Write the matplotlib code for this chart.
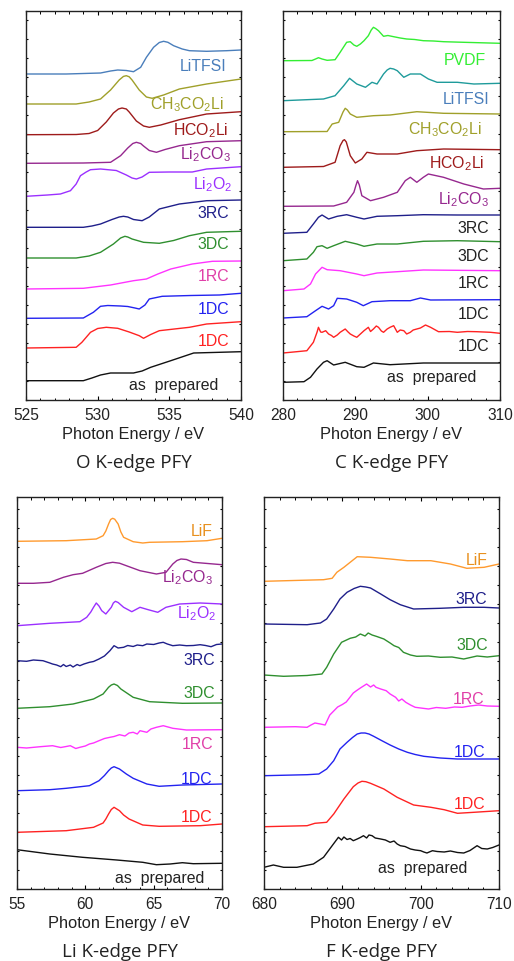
import matplotlib
matplotlib.use("Agg")
import matplotlib.pyplot as plt
from matplotlib.ticker import MultipleLocator

plt.rcParams['font.family'] = ['Liberation Sans', 'DejaVu Sans']
plt.rcParams['mathtext.fontset'] = 'custom'
plt.rcParams['mathtext.rm'] = 'Liberation Sans'
plt.rcParams['mathtext.it'] = 'Liberation Sans:italic'
plt.rcParams['mathtext.default'] = 'regular'

# ---- O K-edge (energy eV, stacked intensity a.u.) ----
o_litfsi_e = [525, 527.8, 530.2, 530.9, 531.4, 532.0, 532.5, 533.0, 533.4, 533.9, 534.3, 534.6, 534.9, 535.3, 535.9, 536.4, 537.6, 539.0, 540]
o_litfsi_i = [326, 326, 327, 329, 330, 329.5, 328.3, 332.7, 342.7, 352.7, 357.5, 358.7, 357.7, 354.3, 351, 349.3, 348.7, 349.3, 350]
o_ch3_e = [525, 528.5, 529.4, 530.2, 530.9, 531.5, 531.8, 532.0, 532.2, 532.4, 532.9, 533.4, 533.8, 534.6, 535.7, 537.6, 540]
o_ch3_i = [296, 296, 298, 301, 310, 320, 323.6, 324.3, 323.2, 320, 310, 303, 301.7, 305, 311, 316, 321]
o_hco_e = [525, 528.5, 529.4, 530.0, 530.6, 531.1, 531.45, 531.7, 532.0, 532.2, 532.7, 533.2, 533.6, 534.4, 535.7, 537.6, 540]
o_hco_i = [265.3, 265.5, 266.5, 269.5, 278, 287, 291, 292, 291, 288, 279, 274, 272.7, 275, 280.3, 286, 288.3]
o_li2co3_e = [525, 529, 530.9, 531.6, 532.1, 532.45, 532.7, 533.0, 533.2, 533.6, 534.1, 534.7, 535.7, 537.6, 540]
o_li2co3_i = [236.7, 237, 237.7, 244.3, 252, 256.5, 257.7, 256.5, 254, 249.5, 247.7, 250.5, 254.3, 258.3, 259.3]
o_li2o2_e = [525, 526.5, 527.4, 528.1, 528.5, 528.8, 529.2, 529.5, 530.2, 531.3, 532.0, 532.4, 532.7, 533.1, 533.6, 535.0, 536.6, 537.6, 540]
o_li2o2_i = [203.7, 205, 206, 209.3, 216, 224.3, 228, 230.3, 231, 229.5, 225, 222, 221, 223, 227.7, 228, 228, 231, 233.3]
o_3rc_e = [525, 529, 529.6, 530.2, 531.0, 531.5, 531.8, 532.1, 532.5, 533.1, 533.6, 534.3, 535.7, 537.6, 540]
o_3rc_i = [172.7, 172.7, 174, 176, 180.5, 183, 183.7, 183, 180.5, 179.3, 183, 191, 196, 199.3, 200]
o_3dc_e = [525, 528.5, 529.4, 530.2, 531.1, 531.6, 531.9, 532.1, 532.4, 533.2, 534.3, 535.3, 536.4, 537.6, 540]
o_3dc_i = [142, 142, 144, 147.7, 156, 162, 163.7, 163, 161, 157.7, 156.7, 159.5, 164.3, 167.7, 168.7]
o_1rc_e = [525, 529, 530.9, 532.5, 533.4, 534.2, 535.1, 536.6, 538.0, 540]
o_1rc_i = [111, 111.7, 115, 119.3, 121, 126, 131, 136, 138.7, 139]
o_1dcb_e = [525, 529.0, 529.7, 530.2, 530.7, 531.6, 532.1, 532.6, 532.9, 533.3, 533.6, 534.5, 536.5, 538.5, 540]
o_1dcb_i = [81.7, 82, 87.7, 93.7, 94.5, 94, 93.5, 92, 91, 95, 101, 103.7, 104.5, 105, 106.7]
o_1dcr_e = [525, 528.5, 528.9, 529.5, 530.0, 530.6, 531.4, 532.2, 532.9, 533.2, 533.7, 534.3, 536.4, 537.6, 540]
o_1dcr_i = [52, 52.7, 57.7, 67.7, 71.5, 72.7, 71.7, 68, 64.3, 61.7, 65.5, 69.3, 72.7, 76, 78.3]
o_ap_e = [525, 529, 529.6, 530.2, 530.9, 532.5, 533.1, 533.7, 535.1, 536.7, 538.5, 540]
o_ap_i = [19.3, 19.3, 22, 25, 27, 27, 29, 32.7, 39.3, 47, 47.7, 48.3]

# ---- C K-edge ----
c_pvdf_e = [280, 284.0, 284.5, 284.9, 285.4, 286.1, 287.2, 287.9, 288.8, 289.3, 289.8, 290.2, 290.7, 291.2, 291.8, 292.2, 292.5, 292.8, 293.2, 293.9, 294.5, 295.3, 296.2, 297.1, 298.2, 299.4, 300.8, 302.2, 305.0, 310]
c_pvdf_i = [339.3, 339.5, 341, 342.3, 341, 339.7, 340.3, 347.7, 357.7, 358.3, 355, 353.7, 356, 359.3, 364.3, 370, 372.7, 371.5, 369.3, 363.7, 364.5, 363.3, 362, 361, 360.5, 359.3, 359, 358.3, 357.7, 356.7]
c_litfsi_e = [280, 285.6, 287.2, 288.4, 289.2, 290.2, 291.4, 292.3, 293.0, 293.9, 294.4, 294.8, 295.3, 295.8, 296.7, 297.6, 299.0, 300.1, 301.3, 304.1, 306.4, 310]
c_litfsi_i = [299.3, 301, 304.3, 314.3, 321.7, 316, 312.7, 317.7, 316, 326, 330, 331.7, 331, 329.3, 322.7, 326, 326, 321, 317.7, 317.7, 316, 316.7]
c_ch3_e = [280, 286.1, 286.8, 287.7, 288.3, 288.6, 288.9, 289.3, 290.2, 292.5, 294.8, 298.5, 302.2, 310]
c_ch3_i = [268.3, 268.5, 276, 277.7, 288, 291.7, 290, 286, 282.7, 284.3, 285, 288.3, 286.7, 286]
c_hco_e = [280, 285.6, 287.2, 287.9, 288.3, 288.5, 288.75, 289.3, 290.0, 290.9, 291.6, 293.0, 295.8, 298.5, 302.2, 310]
c_hco_i = [232.7, 233.5, 237.7, 254.3, 259.5, 260.3, 258, 244.3, 237, 241, 247.7, 246, 246, 249.3, 251, 250.3]
c_li2co3_e = [280, 287.0, 288.8, 289.8, 290.1, 290.3, 290.55, 290.9, 292.1, 293.9, 295.8, 296.9, 297.6, 298.5, 299.4, 300.1, 302.2, 305.0, 307.7, 310]
c_li2co3_i = [193.7, 194, 197.7, 207.7, 215, 219.3, 215, 204.3, 199.3, 202.7, 207.7, 219.3, 222.7, 217.7, 222.7, 226, 222.7, 216, 211, 211.7]
c_3rc_e = [280, 283.3, 284.2, 284.9, 285.4, 286.3, 287.5, 288.8, 290.2, 291.2, 293.0, 295.8, 299.4, 304.1, 310]
c_3rc_i = [166.7, 167.7, 176, 182.7, 185, 181, 183.7, 185.3, 182.7, 181, 183.7, 184.3, 185.3, 185, 185]
c_3dc_e = [280, 283.3, 284.2, 284.7, 285.4, 286.1, 287.0, 288.6, 290.2, 291.2, 293.0, 295.8, 299.4, 304.1, 310]
c_3dc_i = [139.3, 141, 147.7, 153.3, 154.3, 151.7, 154.3, 158.7, 156, 153.7, 156, 156, 158.7, 159.3, 158.3]
c_1rc_e = [280, 282.9, 283.8, 284.5, 285.4, 286.1, 287.9, 290.2, 291.2, 293.0, 295.8, 299.4, 310]
c_1rc_i = [109.3, 111, 116, 126, 132.7, 130.3, 129.3, 126, 124.3, 127, 128.3, 130, 129.3]
c_1dcb_e = [280, 283.3, 284.5, 285.4, 286.3, 287.0, 287.5, 288.8, 290.2, 291.1, 292.3, 294.8, 297.6, 299.0, 300.4, 310]
c_1dcb_i = [82, 83.3, 89.3, 93.7, 91, 94.3, 101.7, 101, 97.7, 94.3, 98.3, 99.3, 99.3, 102, 100, 100.3]
c_1dcr_e = [280, 281.9, 283.3, 284.2, 284.7, 284.9, 285.2, 285.4, 285.9, 286.3, 286.7, 287.0, 287.5, 287.9, 288.6, 289.0,
            289.3, 289.8, 290.2, 290.7, 291.2, 291.8, 292.1, 292.5, 292.9, 293.2, 293.6, 293.9, 294.4, 294.8, 295.3, 295.8,
            296.2, 296.7, 297.1, 297.6, 298.0, 298.5, 299.0, 299.7, 300.4, 301.5, 303.0, 304.1, 305.5, 306.8, 308.7, 310]
c_1dcr_i = [47, 48.3, 49.3, 57.7, 67.7, 72.7, 68, 67.7, 69.3, 66, 64.5, 62.7, 65, 67.7, 71, 68,
            66, 64, 62.7, 66, 69.3, 72.7, 68.5, 71, 74, 72.7, 69, 67.7, 71, 72.7, 74.3, 67.7,
            70, 69.3, 66, 67.7, 70, 71, 72, 75, 72.7, 68.3, 68.5, 67.7, 68.5, 68.3, 67.7, 66.7]
c_ap_e = [280, 282.9, 283.8, 284.7, 285.6, 286.1, 287.0, 288.6, 290.2, 291.2, 292.5, 294.8, 299.4, 310]
c_ap_i = [17.7, 18.3, 22.7, 31, 37.7, 39.3, 35, 37.7, 33.3, 32.7, 37, 35.3, 37, 37]

# ---- Li K-edge ----
li_lif_e = [55, 58.6, 60.8, 61.3, 61.5, 61.7, 61.85, 62.0, 62.15, 62.4, 62.6, 62.8, 63.5, 64.2, 64.7, 67.1, 68.9, 70]
li_lif_i = [347.7, 348.3, 350, 353.3, 358, 365, 369.5, 370.7, 369.8, 365, 357, 351.7, 347.3, 346, 346.7, 347.3, 348.3, 350.7]
li_li2co3_e = [55, 56.2, 57.4, 58.4, 59.1, 59.8, 60.8, 61.5, 62.0, 62.5, 63.0, 64.0, 65.2, 65.9, 66.4, 66.7, 67.0, 67.4, 67.9, 70]
li_li2co3_i = [305.7, 305.7, 306.7, 311.7, 314.3, 315.7, 321.7, 325.5, 326.7, 325.8, 323.3, 318.3, 315, 316.7, 325, 328.5, 330, 329.5, 326.7, 324.3]
li_li2o2_e = [55, 57.4, 59.6, 60.1, 60.4, 60.6, 60.8, 61.0, 61.2, 61.5, 61.9, 62.05, 62.2, 62.4, 62.8, 63.4, 64.0, 64.6, 65.3, 65.9, 66.9, 68.4, 70]
li_li2o2_i = [263.3, 265.7, 267.3, 271.7, 277, 281.7, 286, 283, 278.3, 275, 281.7, 286, 287.7, 286.5, 281.7, 277.3, 281.7, 279.3, 276.7, 281.7, 285, 286, 285]
li_3rc_e = [55, 55.7, 56.2, 56.9, 57.4, 57.6, 57.9, 58.2, 58.4, 58.6, 58.9, 59.1, 59.4, 59.6, 59.9, 60.3, 60.6, 61.0, 61.4, 61.8,
            62.1, 62.4, 62.8, 63.1, 63.5, 63.8, 64.2, 64.5, 65.0, 65.4, 65.7, 66.0, 66.4, 66.9, 67.4, 67.9, 68.4, 68.8, 69.2, 69.6, 70]
li_3rc_i = [228.3, 227.7, 229, 228.3, 226, 225, 224, 222.3, 224.5, 222.5, 224, 222, 224.5, 223.3, 225, 226.7, 227.5, 230, 233, 238.3,
            243.3, 241, 241.7, 243.5, 242.5, 244, 243.3, 245, 244.5, 246, 246.7, 245, 243.3, 244, 243.3, 243.5, 244.3, 243.5, 242.3, 244.5, 245]
li_3dc_e = [55, 57.4, 59.1, 60.6, 61.3, 61.7, 61.9, 62.1, 62.35, 62.6, 63.5, 64.7, 67.1, 70]
li_3dc_i = [180.7, 182.3, 185, 190, 195, 201.7, 204, 205, 203.5, 200, 191.7, 187.3, 185.7, 186]
li_1rc_e = [55, 55.7, 56.7, 57.6, 58.2, 58.6, 58.9, 59.3, 59.6, 60.0, 60.3, 60.6, 61.0, 61.4, 61.8, 62.1, 62.5, 62.9, 63.2,
            63.5, 63.8, 64.0, 64.5, 64.8, 65.2, 65.7, 66.4, 67.4, 70]
li_1rc_i = [141.7, 141, 142.3, 143.3, 141.5, 142.5, 143.3, 140.5, 141.7, 143, 145, 146, 148.3, 150.5, 151.7, 152.5, 154.3, 153, 156,
            156.7, 155, 158.3, 156.7, 160, 161.7, 163.3, 160.7, 159, 159.3]
li_1dcb_e = [55, 57.4, 58.6, 60.3, 61.0, 61.4, 61.7, 61.9, 62.1, 62.5, 63.0, 63.5, 64.5, 65.4, 67.1, 70]
li_1dcb_i = [98.3, 99.3, 100.7, 103.3, 108.3, 113.5, 118.3, 121, 122.3, 120, 115, 110.7, 105, 102.7, 104, 105]
li_1dcr_e = [55, 58.6, 60.6, 61.3, 61.5, 61.7, 61.9, 62.1, 62.5, 62.8, 63.2, 64.2, 65.4, 68.4, 70]
li_1dcr_i = [56.7, 58.3, 61.7, 66, 70, 75, 79.5, 81.7, 78.3, 74, 70, 64, 62.7, 63.3, 65]
li_ap_e = [55, 57.4, 59.8, 62.3, 64.2, 65.2, 66.2, 67.1, 67.9, 70]
li_ap_i = [39.3, 35, 31.7, 29, 26.7, 24.3, 25, 26.3, 25.3, 25.7]

# ---- F K-edge ----
f_lif_e = [680, 687.6, 688.7, 689.3, 690.2, 691.0, 691.9, 693.6, 696.1, 698.3, 701.3, 703.8, 705.9, 708.1, 710]
f_lif_i = [307.7, 309.3, 310.7, 316.7, 321.7, 326.7, 332.3, 331.7, 330, 328.3, 328.3, 325, 320.7, 321.7, 325]
f_3rc_e = [680, 685.5, 687.2, 688.0, 688.9, 689.7, 690.6, 691.5, 692.3, 693.0, 693.6, 694.9, 696.1, 697.4, 699.1, 702.5, 705.5, 708.1, 710]
f_3rc_i = [265, 264.3, 266, 270, 280, 290, 296.7, 300.5, 302.7, 302, 301, 295, 289.3, 284.3, 280, 280.7, 281.7, 281.7, 281]
f_3dc_e = [680, 682.5, 685.5, 687.4, 688.0, 688.9, 689.9, 691.0, 691.7, 692.3, 692.9, 693.3, 693.8, 694.4, 695.3, 696.1,
           696.6, 697.2, 697.8, 698.7, 699.5, 701.0, 702.5, 704.0, 705.5, 707.2, 708.5, 710]
f_3dc_i = [214, 212.7, 213.5, 215, 221.7, 235, 246.7, 250.7, 252, 255, 253, 256, 254, 252.5, 250, 246,
           243.3, 241.5, 236.7, 234, 232.7, 233, 231.7, 232, 230, 233, 232, 233.3]
f_1rc_e = [680, 684, 685.5, 686.0, 686.5, 687.2, 687.8, 688.4, 688.9, 689.4, 690.0, 690.5, 691.0, 691.4, 691.8, 692.3, 692.7,
           693.1, 693.6, 694.0, 694.3, 694.9, 695.6, 696.1, 696.8, 697.2, 697.6, 698.1, 698.7, 699.3, 700.0, 701.0, 702.0,
           703.2, 704.3, 705.3, 706.3, 707.4, 708.5, 710]
f_1rc_i = [161.7, 162.3, 161.7, 164, 166, 165, 164, 174, 178, 182, 184.5, 187, 192, 196, 198.3, 201, 203,
           205, 202, 204, 201.7, 200, 198.3, 195, 191.7, 188, 190, 186.7, 184, 181.7, 181, 180, 181.5,
           180.7, 182, 181.7, 183, 184, 183, 182.7]
f_1dcb_e = [680, 685.5, 687.0, 688.0, 688.9, 689.7, 690.6, 691.3, 691.9, 692.4, 692.9, 693.4, 694.0, 695.0, 696.1, 697.2, 698.3, 699.3, 700.4, 702.5, 704.7, 710]
f_1dcb_i = [113.3, 114.3, 115, 120, 128.3, 140, 146.7, 151.5, 155, 156, 156, 155, 152.7, 148.5, 144, 140, 136.7, 134.5, 132.7, 131, 130, 130]
f_1dcr_e = [680, 685.5, 686.5, 688.0, 688.9, 690.2, 691.4, 692.0, 692.5, 693.0, 693.6, 695.3, 697.0, 699.1, 701.3, 703.0, 704.7, 706.8, 710]
f_1dcr_i = [62.3, 63.3, 65.7, 66.7, 75, 90, 102.3, 106, 107.7, 107.3, 105.7, 100, 91.7, 84, 81.7, 79.3, 75.7, 76.7, 78.3]
f_ap_e = [680, 681.2, 682.5, 684.2, 686.3, 687.6, 688.7, 689.5, 689.9, 690.2, 690.6, 691.0, 691.4, 691.9, 692.3, 692.7,
          693.1, 693.4, 693.8, 694.2, 694.9, 695.5, 696.1, 696.6, 697.0, 697.4, 698.0, 698.7, 699.3, 700.0, 700.4,
          700.8, 701.5, 702.1, 703.0, 703.8, 704.7, 705.5, 706.3, 707.2, 707.8, 708.5, 709.2, 710]
f_ap_i = [21.7, 24, 21.7, 21.7, 25, 31.7, 43.3, 51.7, 49, 52, 49.5, 50.5, 48.3, 50, 51.5, 53.3,
          51, 54, 53.3, 51, 50, 49, 46.7, 48, 45, 43.3, 42.5, 40, 39, 38.3, 37,
          36, 38.3, 37.5, 37, 38, 36.5, 36, 38.5, 43.3, 40.5, 40, 41.5, 44]

# colours
BLUEGREY = '#4a7ebb'
OLIVE = '#a0a02a'
DARKRED = '#9e1b1b'
PURPLE = '#96288f'
VIOLET = '#9b30ff'
NAVY = '#1f1f8a'
GREEN = '#2f8f2f'
MAGENTA = '#ff33ff'
PINK = '#e03fa8'
BLUE = '#2323f0'
RED = '#ff2222'
BLACK = '#111111'
LIME = '#33ee33'
TEAL = '#1f9b9b'
ORANGE = '#ff9a2e'
DARK = '#222222'

CH3 = r'CH$_3$CO$_2$Li'
HCO = r'HCO$_2$Li'
LCO = r'Li$_2$CO$_3$'
LO = r'Li$_2$O$_2$'

fig = plt.figure(figsize=(5.14, 9.62), dpi=100)

panels = [
    dict(rect=[26, 12, 241, 401], xlim=(525, 540), major=5, minor=1, ylim=389,
         curves=[(o_litfsi_e, o_litfsi_i, BLUEGREY), (o_ch3_e, o_ch3_i, OLIVE), (o_hco_e, o_hco_i, DARKRED),
                 (o_li2co3_e, o_li2co3_i, PURPLE), (o_li2o2_e, o_li2o2_i, VIOLET), (o_3rc_e, o_3rc_i, NAVY),
                 (o_3dc_e, o_3dc_i, GREEN), (o_1rc_e, o_1rc_i, MAGENTA), (o_1dcb_e, o_1dcb_i, BLUE),
                 (o_1dcr_e, o_1dcr_i, RED), (o_ap_e, o_ap_i, BLACK)],
         labels=[('LiTFSI', 539.0, 330, BLUEGREY), (CH3, 538.8, 291.5, OLIVE), (HCO, 539.1, 266, DARKRED),
                 (LCO, 539.3, 242, PURPLE), (LO, 539.4, 212, VIOLET), ('3RC', 539.2, 182.5, NAVY),
                 ('3DC', 539.2, 152.3, GREEN), ('1RC', 539.2, 119.8, PINK), ('1DC', 539.2, 87.3, BLUE),
                 ('1DC', 539.2, 54.8, RED), ('as  prepared', 538.4, 11, DARK)],
         title='O K-edge PFY'),
    dict(rect=[283, 12, 500, 401], xlim=(280, 310), major=10, minor=2, ylim=389,
         curves=[(c_pvdf_e, c_pvdf_i, LIME), (c_litfsi_e, c_litfsi_i, TEAL), (c_ch3_e, c_ch3_i, OLIVE),
                 (c_hco_e, c_hco_i, DARKRED), (c_li2co3_e, c_li2co3_i, PURPLE), (c_3rc_e, c_3rc_i, NAVY),
                 (c_3dc_e, c_3dc_i, GREEN), (c_1rc_e, c_1rc_i, MAGENTA), (c_1dcb_e, c_1dcb_i, BLUE),
                 (c_1dcr_e, c_1dcr_i, RED), (c_ap_e, c_ap_i, BLACK)],
         labels=[('PVDF', 308.1, 336, LIME), ('LiTFSI', 308.5, 297, BLUEGREY), (CH3, 307.4, 266.5, OLIVE),
                 (HCO, 307.9, 233, DARKRED), (LCO, 308.5, 196.5, PURPLE), ('3RC', 308.5, 168, DARK),
                 ('3DC', 308.5, 139.8, DARK), ('1RC', 308.5, 112.8, DARK), ('1DC', 308.5, 82, DARK),
                 ('1DC', 308.5, 49.8, DARK), ('as  prepared', 306.8, 18.7, DARK)],
         title='C K-edge PFY'),
    dict(rect=[17, 498, 222, 890], xlim=(55, 70), major=5, minor=1, ylim=392,
         curves=[(li_lif_e, li_lif_i, ORANGE), (li_li2co3_e, li_li2co3_i, PURPLE), (li_li2o2_e, li_li2o2_i, VIOLET),
                 (li_3rc_e, li_3rc_i, NAVY), (li_3dc_e, li_3dc_i, GREEN), (li_1rc_e, li_1rc_i, MAGENTA),
                 (li_1dcb_e, li_1dcb_i, BLUE), (li_1dcr_e, li_1dcr_i, RED), (li_ap_e, li_ap_i, BLACK)],
         labels=[('LiF', 69.3, 353.5, '#e8901e'), (LCO, 69.3, 307.5, PURPLE), (LO, 69.6, 271.3, VIOLET),
                 ('3RC', 69.5, 225.2, NAVY), ('3DC', 69.5, 191.8, GREEN), ('1RC', 69.4, 141.2, PINK),
                 ('1DC', 69.3, 106.3, BLUE), ('1DC', 69.3, 68, RED), ('as  prepared', 68.7, 7.3, DARK)],
         title='Li K-edge PFY'),
    dict(rect=[264, 498, 499, 890], xlim=(680, 710), major=10, minor=2, ylim=392,
         curves=[(f_lif_e, f_lif_i, ORANGE), (f_3rc_e, f_3rc_i, NAVY), (f_3dc_e, f_3dc_i, GREEN),
                 (f_1rc_e, f_1rc_i, MAGENTA), (f_1dcb_e, f_1dcb_i, BLUE), (f_1dcr_e, f_1dcr_i, RED),
                 (f_ap_e, f_ap_i, BLACK)],
         labels=[('LiF', 708.5, 324.7, '#e8901e'), ('3RC', 708.5, 285.5, NAVY), ('3DC', 708.6, 239.5, GREEN),
                 ('1RC', 708.1, 185.5, PINK), ('1DC', 708.3, 133.2, BLUE), ('1DC', 708.3, 80.5, RED),
                 ('as  prepared', 706.0, 16.7, DARK)],
         title='F K-edge PFY'),
]

W, H = 514.0, 962.0
for p in panels:
    x0, y0, x1, y1 = p['rect']
    ax = fig.add_axes([x0 / W, 1 - y1 / H, (x1 - x0) / W, (y1 - y0) / H])
    for e, i, c in p['curves']:
        ax.plot(e, i, color=c, lw=1.0)
    for txt, x, y, c in p['labels']:
        ax.text(x, y, txt, color=c, fontsize=11.4, ha='right', va='baseline')
    ax.set_xlim(*p['xlim'])
    ax.set_ylim(0, p['ylim'])
    ax.xaxis.set_major_locator(MultipleLocator(p['major']))
    ax.xaxis.set_minor_locator(MultipleLocator(p['minor']))
    ax.yaxis.set_major_locator(MultipleLocator(19))
    ax.set_yticklabels([])
    ax.tick_params(axis='both', which='major', direction='in', top=True, right=True,
                   length=3, width=0.8, labelsize=11.2, pad=5, labelcolor=DARK)
    ax.tick_params(axis='x', which='minor', direction='in', top=True, length=1.8, width=0.7)
    ax.tick_params(axis='y', which='major', length=1.5)
    for s in ax.spines.values():
        s.set_linewidth(1.0)
        s.set_color(DARK)
    ax.set_xlabel('Photon Energy / eV', fontsize=11.8, labelpad=3, color=DARK)
    fig.text((x0 + x1) / 2 / W, 1 - (y1 + 66.7) / H, p['title'], ha='center', va='baseline',
             fontsize=13.5, family=['Open Sans', 'DejaVu Sans'], color=DARK)

fig.savefig('out.png', dpi=100)
